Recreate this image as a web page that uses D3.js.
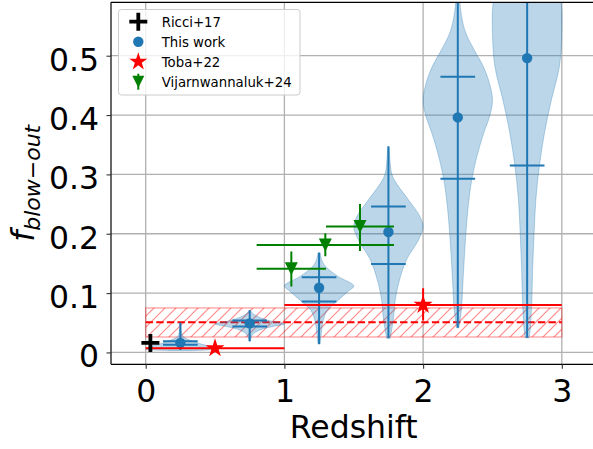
<!DOCTYPE html>
<html>
<head>
<meta charset="utf-8">
<script src="https://cdn.jsdelivr.net/npm/d3@7"></script>
<style>
  html, body { margin: 0; padding: 0; background: #ffffff; }
  svg { display: block; }
  text { font-family: "DejaVu Sans", sans-serif; }
</style>
</head>
<body>
<div id="chart"></div>
<script>
// ---------------- DATA ----------------
const xTicks = [0, 1, 2, 3];
const xTickLabels = ["0", "1", "2", "3"];
const yTicks = [0, 0.1, 0.2, 0.3, 0.4, 0.5];
const yTickLabels = ["0", "0.1", "0.2", "0.3", "0.4", "0.5"];

// This work (violins)
const workZ      = [0.25, 0.75, 1.25, 1.75, 2.25, 2.75];
const workMedian = [0.016, 0.049, 0.109, 0.203, 0.396, 0.496];
const workQlo    = [0.013, 0.0435, 0.086, 0.149, 0.2925, 0.315];
const workQhi    = [0.019, 0.0537, 0.1266, 0.2457, 0.4646, 0.65];
const workMin    = [0.004, 0.019, 0.014, 0.024, 0.0415, 0.0247];
const workMax    = [0.050, 0.071, 0.168, 0.347, 0.75, 0.85];
// violin density profiles: [f value, relative half-width]
const violin1 = [[0.003,0.35],[0.006,1.0],[0.010,0.85],[0.015,0.55],[0.020,0.3],[0.025,0.12],[0.030,0.05],[0.040,0.02],[0.050,0.01]];
const violin2 = [[0.019,0.02],[0.030,0.08],[0.038,0.3],[0.044,0.7],[0.048,1.0],[0.053,0.6],[0.060,0.25],[0.066,0.08],[0.071,0.02]];
const violin3 = [[0.014,0.03],[0.030,0.06],[0.054,0.12],[0.071,0.24],[0.088,0.55],[0.102,0.82],[0.112,1.0],[0.128,0.55],[0.144,0.2],[0.155,0.08],[0.168,0.03]];
const violin4 = [[0.024,0.05],[0.040,0.1],[0.060,0.15],[0.090,0.2],[0.120,0.31],[0.156,0.52],[0.190,0.87],[0.212,1.0],[0.230,0.9],[0.257,0.58],[0.285,0.23],[0.300,0.1],[0.320,0.05],[0.347,0.02]];
const violin5 = [[0.0415,0.03],[0.070,0.1],[0.120,0.15],[0.180,0.21],[0.240,0.29],[0.290,0.4],[0.330,0.55],[0.370,0.75],[0.400,0.93],[0.425,1.0],[0.450,0.93],[0.480,0.75],[0.510,0.47],[0.540,0.22],[0.570,0.1],[0.600,0.05],[0.650,0.02],[0.750,0.01]];
const violin6 = [[0.0247,0.06],[0.040,0.09],[0.088,0.135],[0.144,0.16],[0.200,0.2],[0.257,0.25],[0.313,0.35],[0.370,0.5],[0.4256,0.7],[0.482,0.93],[0.539,1.0],[0.590,0.98],[0.650,0.75],[0.720,0.4],[0.800,0.15],[0.850,0.05]];
const violinProfiles = [violin1, violin2, violin3, violin4, violin5, violin6];

// Ricci+17
const ricciZ = [0.034];
const ricciF = [0.016];

// Toba+22
const tobaZ = [0.5, 2.0];
const tobaF = [0.007, 0.080];
const tobaXerr = [0.5, 1.0];
const tobaYerrLo = [0, 0.026];
const tobaYerrHi = [0, 0.028];

// Vijarnwannaluk+24
const vijZ = [1.05, 1.295, 1.545];
const vijF = [0.141, 0.181, 0.212];
const vijXerr = [0.25, 0.495, 0.245];
const vijYerrLo = [0.030, 0.019, 0.041];
const vijYerrHi = [0.029, 0.020, 0.038];

// Hatched band
const bandZ = [0, 3];
const bandLo = 0.026;
const bandMid = 0.051;
const bandHi = 0.075;

const legendLabels = ["Ricci+17", "This work", "Toba+22", "Vijarnwannaluk+24"];

// ---------------- CHART ----------------
(function () {
const W = 593, H = 449;
const blue = "#1f77b4", red = "#ff0000", green = "#008000";
const svg = d3.select("#chart").append("svg").attr("width", W).attr("height", H);

const pL = 111, pR = 596.5, pT = 2.3, pB = 364.3;
const x = d3.scaleLinear().domain([-0.25, 3.25]).range([pL, pR]);
const y = d3.scaleLinear().domain([-0.02, 0.59]).range([pB, pT]);

const defs = svg.append("defs");
defs.append("clipPath").attr("id", "clip").append("rect")
  .attr("x", pL).attr("y", pT).attr("width", pR - pL).attr("height", pB - pT);
const hs = 11;
const pat = defs.append("pattern").attr("id", "hatch").attr("patternUnits", "userSpaceOnUse")
  .attr("width", hs).attr("height", hs);
pat.append("path").attr("d", `M-2,2 L2,-2 M0,${hs} L${hs},0 M${hs - 2},${hs + 2} L${hs + 2},${hs - 2}`)
  .attr("stroke", red).attr("stroke-opacity", 0.45).attr("stroke-width", 1.2);

// grid
const grid = svg.append("g");
grid.selectAll(".gx").data(xTicks).join("line")
  .attr("x1", d => x(d)).attr("x2", d => x(d)).attr("y1", pT).attr("y2", pB)
  .attr("stroke", "#b0b0b0").attr("stroke-width", 1.3);
grid.selectAll(".gy").data(yTicks).join("line")
  .attr("x1", pL).attr("x2", pR).attr("y1", d => y(d)).attr("y2", d => y(d))
  .attr("stroke", "#b0b0b0").attr("stroke-width", 1.3);

const plot = svg.append("g").attr("clip-path", "url(#clip)");

// band
plot.append("rect")
  .attr("x", x(bandZ[0])).attr("width", x(bandZ[1]) - x(bandZ[0]))
  .attr("y", y(bandHi)).attr("height", y(bandLo) - y(bandHi))
  .attr("fill", "url(#hatch)").attr("stroke", red).attr("stroke-opacity", 0.35).attr("stroke-width", 1.4);
plot.append("line")
  .attr("x1", x(bandZ[0])).attr("x2", x(bandZ[1])).attr("y1", y(bandMid)).attr("y2", y(bandMid))
  .attr("stroke", red).attr("stroke-width", 2).attr("stroke-dasharray", "7.4,3.2");

// violins
const halfW = x(0.25) - x(0);
workZ.forEach((z, i) => {
  const area = d3.area()
    .y(d => y(d[0]))
    .x0(d => x(z) - d[1] * halfW)
    .x1(d => x(z) + d[1] * halfW)
    .curve(d3.curveCatmullRom);
  plot.append("path").attr("d", area(violinProfiles[i]))
    .attr("fill", blue).attr("fill-opacity", 0.3)
    .attr("stroke", blue).attr("stroke-opacity", 0.3).attr("stroke-width", 1);
});
const qHalf = 0.125;
plot.selectAll(".vbar").data(workZ).join("line")
  .attr("x1", d => x(d)).attr("x2", d => x(d))
  .attr("y1", (d, i) => y(workMin[i])).attr("y2", (d, i) => y(workMax[i]))
  .attr("stroke", blue).attr("stroke-width", 2);
[workQlo, workQhi].forEach(arr => {
  plot.append("g").selectAll("line").data(workZ).join("line")
    .attr("x1", d => x(d - qHalf)).attr("x2", d => x(d + qHalf))
    .attr("y1", (d, i) => y(arr[i])).attr("y2", (d, i) => y(arr[i]))
    .attr("stroke", blue).attr("stroke-width", 2);
});
plot.append("g").selectAll("circle").data(workZ).join("circle")
  .attr("cx", d => x(d)).attr("cy", (d, i) => y(workMedian[i])).attr("r", 5.2)
  .attr("fill", blue);

// marker paths
function starPath(R) {
  const r = R * 0.381966;
  const pts = [];
  for (let k = 0; k < 10; k++) {
    const a = -Math.PI / 2 + k * Math.PI / 5;
    const rr = k % 2 === 0 ? R : r;
    pts.push([rr * Math.cos(a), rr * Math.sin(a)]);
  }
  return "M" + pts.map(p => p[0].toFixed(2) + "," + p[1].toFixed(2)).join("L") + "Z";
}
function triDown(s) {
  return `M${-s},${-s}L${s},${-s}L0,${s}Z`;
}

// Toba+22
tobaZ.forEach((z, i) => {
  plot.append("line").attr("x1", x(z - tobaXerr[i])).attr("x2", x(z + tobaXerr[i]))
    .attr("y1", y(tobaF[i])).attr("y2", y(tobaF[i])).attr("stroke", red).attr("stroke-width", 2);
  plot.append("line").attr("x1", x(z)).attr("x2", x(z))
    .attr("y1", y(tobaF[i] - tobaYerrLo[i])).attr("y2", y(tobaF[i] + tobaYerrHi[i]))
    .attr("stroke", red).attr("stroke-width", 2);
  plot.append("path").attr("d", starPath(10))
    .attr("transform", `translate(${x(z)},${y(tobaF[i])})`).attr("fill", red);
});

// Vijarnwannaluk+24
vijZ.forEach((z, i) => {
  plot.append("line").attr("x1", x(z - vijXerr[i])).attr("x2", x(z + vijXerr[i]))
    .attr("y1", y(vijF[i])).attr("y2", y(vijF[i])).attr("stroke", green).attr("stroke-width", 2);
  plot.append("line").attr("x1", x(z)).attr("x2", x(z))
    .attr("y1", y(vijF[i] - vijYerrLo[i])).attr("y2", y(vijF[i] + vijYerrHi[i]))
    .attr("stroke", green).attr("stroke-width", 2);
  plot.append("path").attr("d", triDown(6.5))
    .attr("transform", `translate(${x(z)},${y(vijF[i])})`).attr("fill", green);
});

// Ricci+17
ricciZ.forEach((z, i) => {
  const cx = x(z), cy = y(ricciF[i]);
  plot.append("path").attr("d", `M${cx - 9},${cy}L${cx + 9},${cy}M${cx},${cy - 9}L${cx},${cy + 9}`)
    .attr("stroke", "#000").attr("stroke-width", 3.8);
});

// spines
svg.append("line").attr("x1", pL).attr("x2", pL).attr("y1", pT).attr("y2", pB)
  .attr("stroke", "#000").attr("stroke-width", 1.2);
svg.append("line").attr("x1", pL).attr("x2", pR).attr("y1", pB).attr("y2", pB)
  .attr("stroke", "#000").attr("stroke-width", 1.2);
svg.append("line").attr("x1", pL).attr("x2", pR).attr("y1", pT).attr("y2", pT)
  .attr("stroke", "#000").attr("stroke-width", 1.2);

// axes
const xAxis = d3.axisBottom(x).tickValues(xTicks).tickFormat((d, i) => xTickLabels[i]).tickSize(4.5).tickPadding(0);
const gx = svg.append("g").attr("transform", `translate(0,${pB})`).call(xAxis);
gx.select(".domain").remove();
gx.selectAll(".tick line").attr("stroke", "#333").attr("stroke-width", 1.1);
gx.selectAll(".tick text").attr("font-size", 31.5).attr("fill", "#000")
  .attr("font-family", "DejaVu Sans").attr("dy", null).attr("y", 37.4);

const yAxis = d3.axisLeft(y).tickValues(yTicks).tickFormat((d, i) => yTickLabels[i]).tickSize(4.5).tickPadding(0);
const gy = svg.append("g").attr("transform", `translate(${pL},0)`).call(yAxis);
gy.select(".domain").remove();
gy.selectAll(".tick line").attr("stroke", "#333").attr("stroke-width", 1.1);
gy.selectAll(".tick text").attr("font-size", 31.5).attr("fill", "#000")
  .attr("font-family", "DejaVu Sans").attr("dy", null).attr("x", -12).attr("y", 14.5);

// axis labels
svg.append("text").attr("x", (pL + pR) / 2).attr("y", 438.3)
  .attr("text-anchor", "middle").attr("font-size", 31.5).text("Redshift");

const yl = svg.append("text").attr("transform", `translate(34,${(pT + pB) / 2}) rotate(-90)`)
  .attr("text-anchor", "middle").attr("font-size", 31.5);
yl.append("tspan").attr("font-style", "italic").text("f");
yl.append("tspan").attr("font-style", "italic").attr("font-size", 22).attr("dy", 6).text("blow−out");

// legend
const lg = svg.append("g");
lg.append("rect").attr("x", 118.5).attr("y", 9.5).attr("width", 181.5).attr("height", 85.5).attr("rx", 3)
  .attr("fill", "#fff").attr("fill-opacity", 0.8).attr("stroke", "#cccccc").attr("stroke-width", 1);
const lx = 138.3, ly0 = 21.7, ldy = 20;
lg.append("path").attr("d", `M${lx - 9},${ly0}L${lx + 9},${ly0}M${lx},${ly0 - 9}L${lx},${ly0 + 9}`)
  .attr("stroke", "#000").attr("stroke-width", 3.8);
lg.append("circle").attr("cx", lx).attr("cy", ly0 + ldy).attr("r", 5.2).attr("fill", blue);
lg.append("path").attr("d", starPath(9.5)).attr("transform", `translate(${lx},${ly0 + 2 * ldy})`).attr("fill", red);
lg.append("line").attr("x1", lx).attr("x2", lx).attr("y1", ly0 + 3 * ldy - 8).attr("y2", ly0 + 3 * ldy + 8)
  .attr("stroke", green).attr("stroke-width", 2);
lg.append("path").attr("d", triDown(6)).attr("transform", `translate(${lx},${ly0 + 3 * ldy})`).attr("fill", green);
lg.selectAll(".lt").data(legendLabels).join("text")
  .attr("x", 161.7).attr("y", (d, i) => ly0 + i * ldy + 5)
  .attr("font-size", 13.3).attr("fill", "#000").text(d => d);
})();
</script>
</body>
</html>
